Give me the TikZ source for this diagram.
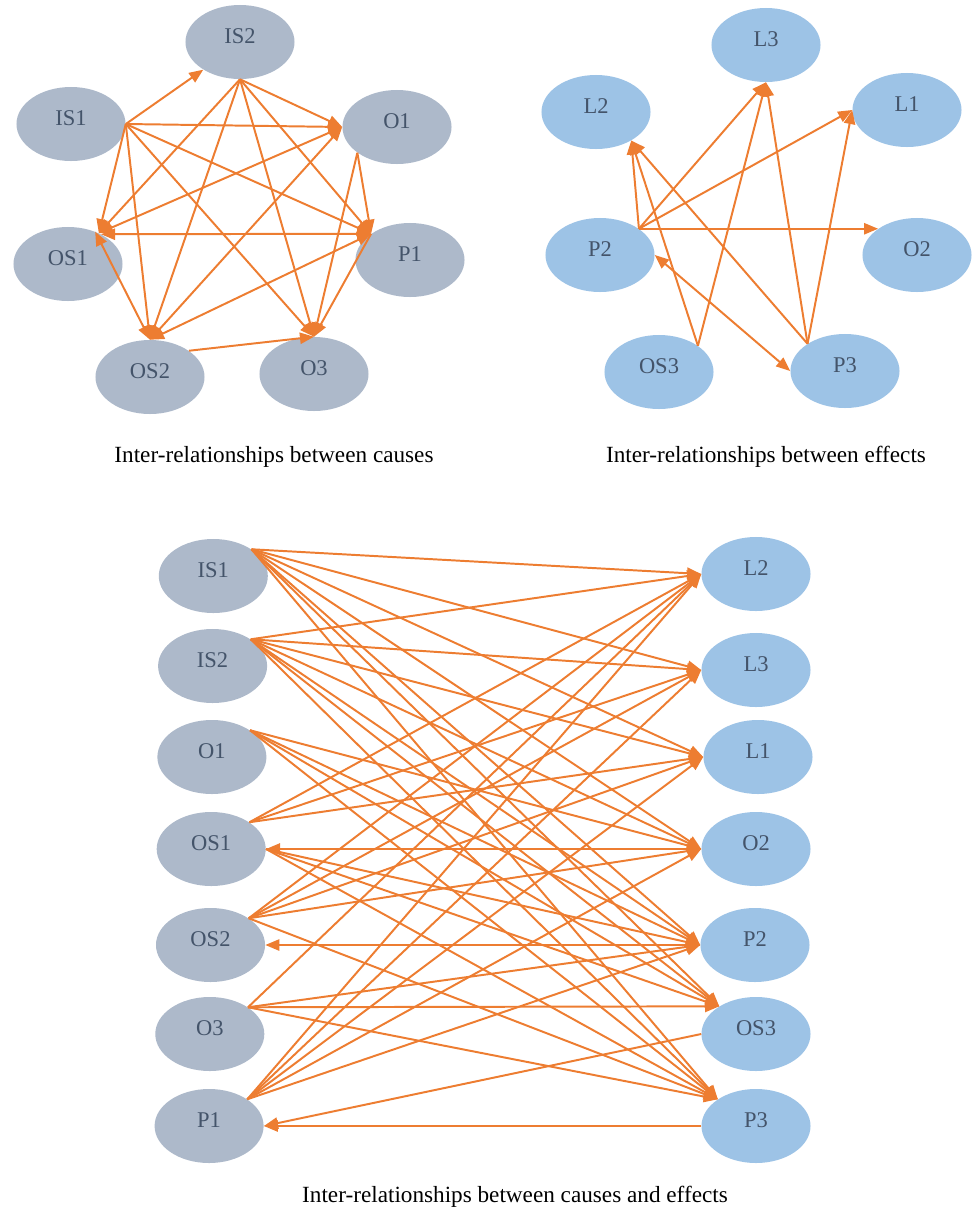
\documentclass[tikz,border=0pt]{standalone}
\usepackage{fontspec}
\setmainfont{Liberation Serif}
\usetikzlibrary{arrows.meta,shapes.geometric}

\definecolor{causefill}{HTML}{ADB9CA}
\definecolor{effectfill}{HTML}{9DC3E6}
\definecolor{labeltext}{HTML}{44546A}
\definecolor{linkorange}{HTML}{ED7D31}

\tikzset{
  cause/.style={ellipse,fill=causefill,text=labeltext,inner sep=0pt,
    text height=11pt,text depth=8.5pt,
    minimum width=2.725cm,minimum height=1.85cm,font=\fontsize{16}{19}\selectfont},
  effect/.style={cause,fill=effectfill},
  link/.style={draw=linkorange,line width=1.4pt,-{Triangle[length=10pt,width=8pt]}},
  twolink/.style={link,{Triangle[length=10pt,width=8pt]}-{Triangle[length=10pt,width=8pt]}},
  caption/.style={font=\fontsize{16.5}{20}\selectfont}
}

\begin{document}
\begin{tikzpicture}[x=0.025cm,y=-0.025cm]
                \useasboundingbox (0,0) rectangle (973,1211);

                % causes
                \node[cause] (tIS2) at (240,42) {IS2};
                \node[cause] (tIS1) at (71,124) {IS1};
                \node[cause] (tO1) at (397,127) {O1};
                \node[cause] (tOS1) at (68,264) {OS1};
                \node[cause] (tP1) at (410,260) {P1};
                \node[cause] (tOS2) at (150,377) {OS2};
                \node[cause] (tO3) at (314,374) {O3};

                \draw[link] (tIS1.east) -- (tIS2.217);
                \foreach \t/\a in {O1/west,P1/146,OS1/45,OS2/north,O3/north} {
                    \draw[link] (tIS1.east) -- (t\t.\a);
                }
                \foreach \t/\a in {O1/west,P1/146,O3/north,OS2/north,OS1/45} {
                    \draw[link] (tIS2.south) -- (t\t.\a);
                }
                \draw[link] (tO1.213) -- (tP1.146);
                \draw[link] (tO1.213) -- (tO3.north);
                \draw[twolink] (tOS1.45) -- (tO1.west);
                \draw[twolink] (tOS2.north) -- (tO1.west);
                \draw[twolink] (tOS1.42) -- (tP1.146);
                \draw[twolink] (tOS2.north) -- (tP1.146);
                \draw[twolink] (tOS1.50) -- (tOS2.north);
                \draw[link] (tOS2.34) -- (tO3.north);
                \draw[link] (tP1.146) -- (tO3.north);

                % effects
                \node[effect] (tL3) at (766,45) {L3};
                \node[effect] (tL2) at (596,112) {L2};
                \node[effect] (tL1) at (907,110) {L1};
                \node[effect] (tP2) at (600,255) {P2};
                \node[effect] (tO2) at (917,255) {O2};
                \node[effect] (tOS3) at (659,372) {OS3};
                \node[effect] (tP3) at (845,371) {P3};

                \foreach \t/\a in {L2/321,L3/south,L1/west,O2/146} {
                    \draw[link] (tP2.34) -- (t\t.\a);
                }
                \draw[link] (tOS3.34) -- (tL2.321);
                \draw[link] (tOS3.34) -- (tL3.south);
                \foreach \t/\a in {L2/321,L3/south,L1/west} {
                    \draw[link] (tP3.144) -- (t\t.\a);
                }
                \draw[twolink] (tP2.east) -- (tP3.west);

                \node[caption] (capcause) at (274,457) {Inter-relationships between causes};
                \node[caption] (capeffect) at (766,457) {Inter-relationships between effects};

                % causes and effects
                \foreach[count=\i] \n/\y in {IS1/576,IS2/666,O1/757,OS1/849,OS2/945,O3/1034,P1/1126} {
                    \node[cause] (b\n) at (214-\i*0.7,\y) {\n};
                }
                \foreach \n/\x/\y in {L2/756/574,L3/756/670,L1/758/757,O2/756/849,P2/755/945,OS3/756/1034,P3/756/1126} {
                    \node[effect] (b\n) at (\x,\y) {\n};
                }

                \foreach \s in {IS1,IS2} {
                    \foreach \t/\a in {L2/west,L3/west,L1/west,O2/west,P2/west,OS3/143,P3/145} {
                        \draw[link] (b\s.35) -- (b\t.\a);
                    }
                }
                \foreach \t/\a in {O2/west,P2/west,OS3/143,P3/145} {
                    \draw[link] (bO1.35) -- (b\t.\a);
                }
                \foreach \t/\a in {L2/west,L3/west,L1/west} {
                    \draw[link] (bOS1.35) -- (b\t.\a);
                }
                \foreach \t/\a in {P2/west,OS3/143,P3/145} {
                    \draw[link] (bOS1.east) -- (b\t.\a);
                }
                \draw[link] (bO2.west) -- (bOS1.east);
                \foreach \t/\a in {L2/west,L3/west,L1/west,O2/west,P3/145} {
                    \draw[link] (bOS2.35) -- (b\t.\a);
                }
                \draw[link] (bP2.west) -- (bOS2.east);
                \foreach \t/\a in {L2/west,P2/west,OS3/143,P3/145} {
                    \draw[link] (bO3.35) -- (b\t.\a);
                }
                \foreach \t/\a in {L2/west,L3/west,L1/west,O2/west,P2/west} {
                    \draw[link] (bP1.35) -- (b\t.\a);
                }
                \draw[link] (bOS3.west) -- (bP1.east);
                \draw[link] (bP3.west) -- (bP1.east);

                \node[caption] (capboth) at (515,1197) {Inter-relationships between causes and effects};
\end{tikzpicture}
\end{document}
